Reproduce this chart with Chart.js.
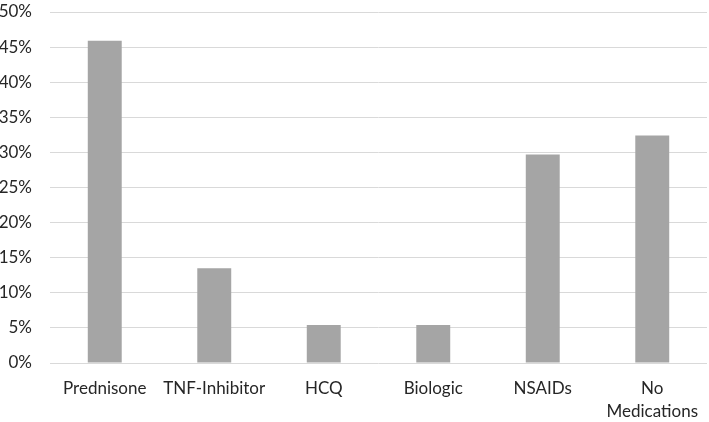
<!DOCTYPE html>
<html>
<head>
<meta charset="utf-8">
<script src="https://cdn.jsdelivr.net/npm/chart.js@4"></script>
<style>
  html, body { margin: 0; padding: 0; background: #fff; }
  #wrap { width: 709px; height: 422px; }
</style>
</head>
<body>
<div id="wrap"><canvas id="myChart"></canvas></div>
<script>
const categories = ["Prednisone", "TNF-Inhibitor", "HCQ", "Biologic", "NSAIDs", ["No", "Medications"]];
const shares = [45.9, 13.5, 5.4, 5.4, 29.7, 32.4];
const yTicks = [0, 5, 10, 15, 20, 25, 30, 35, 40, 45, 50];

const ctx = document.getElementById('myChart').getContext('2d');
const myChart = new Chart(ctx, {
  type: 'bar',
  data: {
    labels: categories,
    datasets: [{
      data: shares,
      backgroundColor: '#a5a5a5',
      borderWidth: 0,
      barPercentage: 0.31,
      categoryPercentage: 1
    }]
  },
  options: {
    responsive: true,
    maintainAspectRatio: false,
    animation: false,
    layout: { padding: { top: 12, right: 2, left: 0, bottom: 0 } },
    plugins: { legend: { display: false }, tooltip: { enabled: false } },
    scales: {
      x: {
        grid: { display: false },
        border: { display: false },
        ticks: {
          color: '#262626',
          font: { family: 'Lato', size: 17, lineHeight: 1.35 },
          padding: 6,
          maxRotation: 0,
          autoSkip: false
        },
        afterFit: s => { s.height = 59; }
      },
      y: {
        min: 0,
        max: 50,
        afterBuildTicks: s => { s.ticks = yTicks.map(v => ({ value: v })); },
        grid: { color: '#d9d9d9', lineWidth: 1, drawTicks: false },
        border: { display: false },
        ticks: {
          color: '#262626',
          font: { family: 'Lato', size: 17 },
          padding: 18,
          callback: v => v + '%'
        },
        afterFit: s => { s.width = 50; s.paddingTop = 0; }
      }
    }
  }
});
</script>
</body>
</html>
